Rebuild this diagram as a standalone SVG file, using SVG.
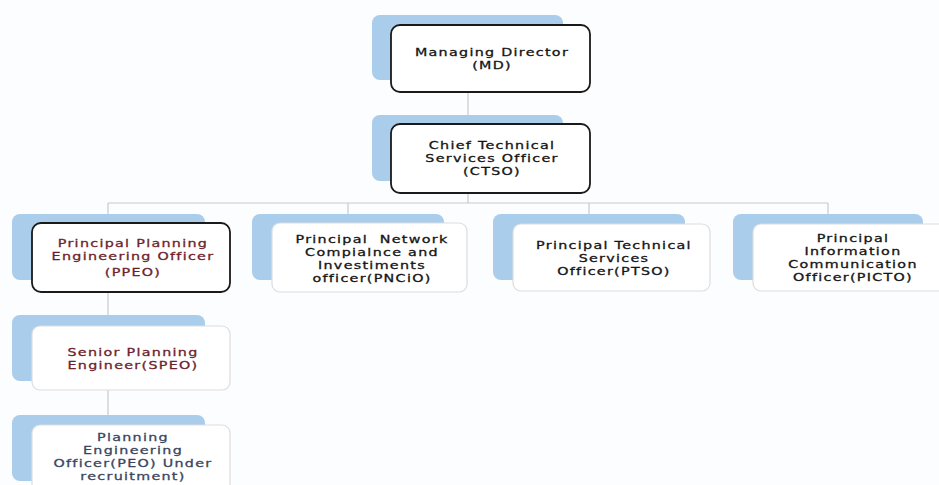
<svg xmlns="http://www.w3.org/2000/svg" width="939" height="485" viewBox="0 0 939 485">
<style>
.bg{fill:#a9cdea}
.box{fill:#ffffff;stroke:#d9dee2;stroke-width:1.2}
.dark{stroke:#1a1a1a;stroke-width:1.8}
.t{font-family:"DejaVu Sans",Verdana,sans-serif;font-size:11px;letter-spacing:1px;text-anchor:middle;fill:#141414;stroke:#141414;stroke-width:0.3}
.m{fill:#6e1f2e;stroke:#6e1f2e}
.p{fill:#3a4660;stroke:#3a4660}
.c{stroke:#c5cacf;stroke-width:1.2;fill:none}
</style>
<rect width="939" height="485" fill="#fcfdfe"/>
<g id="connectors">
<line class="c" x1="468" y1="92" x2="468" y2="124"/>
<line class="c" x1="468" y1="193" x2="468" y2="203"/>
<line class="c" x1="108" y1="203" x2="828" y2="203"/>
<line class="c" x1="108" y1="203" x2="108" y2="214"/>
<line class="c" x1="348" y1="203" x2="348" y2="214"/>
<line class="c" x1="589" y1="203" x2="589" y2="214"/>
<line class="c" x1="828" y1="203" x2="828" y2="214"/>
<line class="c" x1="108" y1="292" x2="108" y2="315"/>
<line class="c" x1="108" y1="390" x2="108" y2="415"/>
</g>
<g id="md">
<rect class="bg" x="372" y="15" width="191" height="65" rx="8"/>
<rect class="box dark" x="391" y="25" width="199" height="67" rx="9"/>
<text class="t" transform="matrix(1.3 0 0 1 -147.6 0)"><tspan x="492" y="56">Managing Director</tspan><tspan x="492" y="69">(MD)</tspan></text>
</g>
<g id="ctso">
<rect class="bg" x="372" y="115" width="191" height="66" rx="8"/>
<rect class="box dark" x="391" y="124" width="199" height="69" rx="9"/>
<text class="t" transform="matrix(1.3 0 0 1 -147.6 0)"><tspan x="492" y="149">Chief Technical</tspan><tspan x="492" y="162">Services Officer</tspan><tspan x="492" y="175">(CTSO)</tspan></text>
</g>
<g id="ppeo">
<rect class="bg" x="12" y="214" width="193" height="66" rx="8"/>
<rect class="box dark" x="32" y="223" width="198" height="69" rx="9"/>
<text class="t m" transform="matrix(1.3 0 0 1 -39.9 0)"><tspan x="133" y="247">Principal Planning</tspan><tspan x="133" y="260">Engineering Officer</tspan><tspan x="133" y="276">(PPEO)</tspan></text>
</g>
<g id="pncio">
<rect class="bg" x="252" y="214" width="192" height="66" rx="8"/>
<rect class="box" x="272" y="223" width="195" height="69" rx="8"/>
<text class="t" xml:space="preserve" transform="matrix(1.3 0 0 1 -111.6 0)"><tspan x="372" y="243">Principal  Network</tspan><tspan x="372" y="256">Compialnce and</tspan><tspan x="372" y="269">Investiments</tspan><tspan x="372" y="282">officer(PNCiO)</tspan></text>
</g>
<g id="ptso">
<rect class="bg" x="493" y="214" width="192" height="66" rx="8"/>
<rect class="box" x="513" y="224" width="197" height="67" rx="8"/>
<text class="t" transform="matrix(1.3 0 0 1 -184.2 0)"><tspan x="614" y="249">Principal Technical</tspan><tspan x="614" y="262">Services</tspan><tspan x="614" y="275">Officer(PTSO)</tspan></text>
</g>
<g id="picto">
<rect class="bg" x="733" y="214" width="190" height="66" rx="8"/>
<rect class="box" x="753" y="224" width="200" height="67" rx="8"/>
<text class="t" transform="matrix(1.3 0 0 1 -255.9 0)"><tspan x="853" y="242">Principal</tspan><tspan x="853" y="255">Information</tspan><tspan x="853" y="268">Communication</tspan><tspan x="853" y="281">Officer(PICTO)</tspan></text>
</g>
<g id="speo">
<rect class="bg" x="12" y="315" width="193" height="66" rx="8"/>
<rect class="box" x="32" y="326" width="198" height="64" rx="8"/>
<text class="t m" transform="matrix(1.3 0 0 1 -39.9 0)"><tspan x="133" y="356">Senior Planning</tspan><tspan x="133" y="369">Engineer(SPEO)</tspan></text>
</g>
<g id="peo">
<rect class="bg" x="12" y="415" width="193" height="66" rx="8"/>
<rect class="box" x="32" y="425" width="198" height="75" rx="8"/>
<text class="t p" transform="matrix(1.3 0 0 1 -39.9 0)"><tspan x="133" y="441">Planning</tspan><tspan x="133" y="454">Engineering</tspan><tspan x="133" y="467">Officer(PEO) Under</tspan><tspan x="133" y="480">recruitment)</tspan></text>
</g>
</svg>
